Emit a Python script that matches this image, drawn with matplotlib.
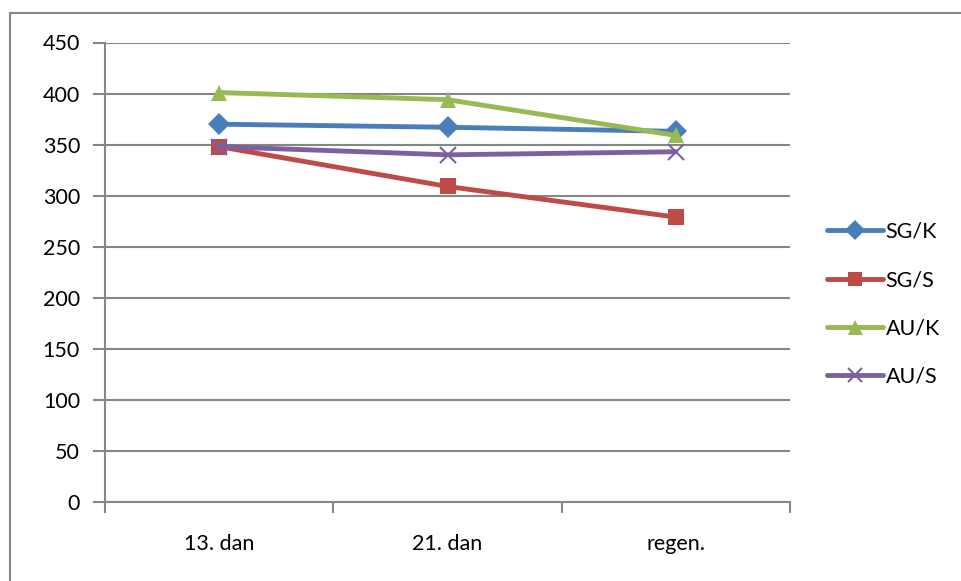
import matplotlib
matplotlib.use("Agg")
import matplotlib.pyplot as plt
from matplotlib.patches import Rectangle

categories = ["13. dan", "21. dan", "regen."]
sg_k = [370, 367, 363]
sg_s = [348, 309, 279]
au_k = [401, 394, 359]
au_s = [348, 340, 343]
yticks = [0, 50, 100, 150, 200, 250, 300, 350, 400, 450]

plt.rcParams['font.family'] = ['Lato', 'DejaVu Sans']

W, H = 961, 581
fig = plt.figure(figsize=(W / 100, H / 100), dpi=100)
fig.patch.set_facecolor("white")

# outer chart border (only left/top visible)
fig.add_artist(Rectangle((10 / W, -0.1), 2.0, 1 - 13 / H + 0.1, transform=fig.transFigure,
                         fill=False, edgecolor="#868686", linewidth=1.5))

ax = fig.add_axes([105 / W, 1 - 502 / H, (790 - 105) / W, (502 - 42.5) / H])
x = [0.5, 1.5, 2.5]

series = [
    ("SG/K", sg_k, "#4A7EBB", "D", 11, None),
    ("SG/S", sg_s, "#BE4B48", "s", 11, None),
    ("AU/K", au_k, "#98B954", "^", 12, None),
    ("AU/S", au_s, "#7D60A0", "x", 11, 1.5),
]
for name, vals, col, mk, ms, mew in series:
    kw = dict(markeredgewidth=mew) if mew else dict(markeredgewidth=0)
    ax.plot(x, vals, color=col, linewidth=3.5, marker=mk, markersize=ms,
            markerfacecolor=col, markeredgecolor=col, label=name,
            solid_capstyle="round", zorder=3, **kw)

ax.set_xlim(0, 3)
ax.set_ylim(0, 450)
ax.set_yticks(yticks)
ax.set_yticklabels([str(v) for v in yticks])
ax.set_xticks([0, 1, 2, 3])
ax.set_xticklabels([])
ax.set_xticks(x, minor=True)
ax.set_xticklabels(categories, minor=True)
ax.tick_params(axis="x", which="minor", length=0, pad=23, labelsize=15.5)
ax.tick_params(axis="x", which="major", length=8, width=1.5, color="#868686", direction="out")
ax.tick_params(axis="y", length=9, width=1.5, color="#868686", direction="out", labelsize=15.5, pad=9)
ax.grid(axis="y", color="#868686", linewidth=1.5, zorder=0)
for s in ["top", "right"]:
    ax.spines[s].set_visible(False)
for s in ["left", "bottom"]:
    ax.spines[s].set_color("#868686")
    ax.spines[s].set_linewidth(1.5)

leg = fig.legend(loc="upper left", bbox_to_anchor=(827 / W, 1 - 222 / H), frameon=False,
                 fontsize=15.5, handlelength=2.6, handletextpad=0.12, labelspacing=1.31,
                 borderpad=0, borderaxespad=0, markerscale=0.9)

fig.savefig("out.png", dpi=100)
